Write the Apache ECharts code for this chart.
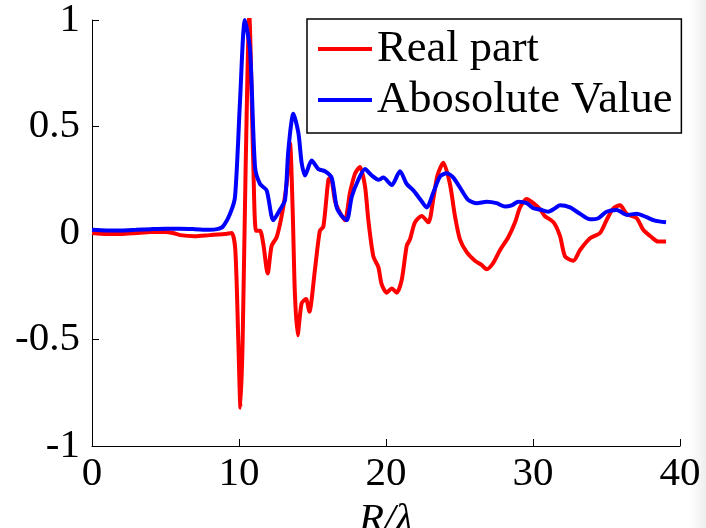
<!DOCTYPE html>
<html>
<head>
<meta charset="utf-8">
<script src="https://cdn.jsdelivr.net/npm/echarts@6/dist/echarts.min.js"></script>
<style>
  html, body { margin: 0; padding: 0; background: #ffffff; }
  #chart { width: 706px; height: 528px; }
</style>
</head>
<body>
<div id="chart"></div>
<script>
// Normalised distance R/λ and the real part of the response
const realR = [0, 1, 2, 3, 4, 5, 5.5, 6, 7, 8, 9, 9.5, 9.75, 9.95, 10.1, 10.25, 10.45, 10.7, 10.97, 11.16,
  11.43, 11.65, 11.95, 12.22, 12.56, 12.9, 13.24, 13.47, 13.65, 13.8, 13.99, 14.26, 14.56, 14.78, 15.17, 15.5,
  15.74, 16.08, 16.24, 16.53, 16.76, 17.2, 17.55, 17.9, 18.23, 18.57, 18.8, 19.14, 19.48, 19.7, 20.05, 20.39,
  20.73, 21.07, 21.41, 21.63, 21.97, 22.43, 22.88, 23.22, 23.5, 23.9, 24.35, 24.69, 25.03, 25.49, 26.05, 26.5,
  26.85, 27.3, 27.76, 28.32, 28.78, 29.12, 29.57, 30.02, 30.5, 30.8, 31.4, 31.84, 32.18, 32.74, 33.2, 33.88,
  34.56, 35.0, 35.46, 35.92, 36.37, 37.05, 37.5, 38.07, 38.52, 39.05];
const realPart = [0.0, -0.005, -0.005, 0.0, 0.005, 0.005, 0.0, -0.01, -0.015, -0.01, -0.005, 0.0, -0.08, -0.5, -0.82, -0.5, 0.3, 1.02, 0.33, 0.01,
  0.01, -0.05, -0.19, -0.06, -0.02, 0.08, 0.23, 0.42, 0.11, -0.28, -0.48, -0.33, -0.31, -0.37, -0.17, 0.01,
  0.03, 0.25, 0.26, 0.15, 0.11, 0.06, 0.19, 0.28, 0.31, 0.22, 0.06, -0.11, -0.16, -0.24, -0.28, -0.26,
  -0.28, -0.22, -0.06, -0.03, 0.05, 0.08, 0.05, 0.16, 0.27, 0.33, 0.23, 0.08, -0.03, -0.09, -0.13, -0.15,
  -0.17, -0.14, -0.08, -0.02, 0.05, 0.12, 0.16, 0.14, 0.11, 0.08, 0.05, -0.015, -0.11, -0.13, -0.08, -0.025,
  0.0, 0.06, 0.115, 0.13, 0.09, 0.07, 0.015, -0.02, -0.04, -0.04];

// Normalised distance R/λ and the magnitude of the response
const absR = [0, 1, 2, 3, 4, 5, 6, 7, 8, 8.5, 8.9, 9.39, 9.73, 10.07, 10.4, 10.75, 11.09, 11.43, 11.88, 12.33,
  12.79, 13.13, 13.36, 13.7, 14.04, 14.26, 14.49, 14.94, 15.4, 15.85, 16.3, 16.65, 16.99, 17.33, 17.67, 18.12,
  18.57, 19.03, 19.48, 19.82, 20.39, 20.95, 21.41, 21.86, 22.31, 22.77, 23.22, 23.67, 24.13, 24.58, 25.15, 25.6,
  26.17, 26.85, 27.53, 28.1, 28.55, 29.0, 29.57, 30.02, 30.48, 31.04, 31.5, 31.84, 32.52, 33.2, 33.88, 34.44,
  35.0, 35.7, 36.37, 37.05, 37.73, 38.3, 39.05];
const absValue = [0.015, 0.012, 0.012, 0.015, 0.018, 0.02, 0.02, 0.018, 0.015, 0.018, 0.03, 0.09, 0.17, 0.62, 1.0, 0.86, 0.31, 0.23, 0.2, 0.06,
  0.11, 0.155, 0.39, 0.56, 0.47, 0.33, 0.27, 0.34, 0.3, 0.29, 0.26, 0.12, 0.08, 0.06, 0.17, 0.25,
  0.3, 0.27, 0.25, 0.26, 0.225, 0.29, 0.23, 0.2, 0.16, 0.12, 0.19, 0.265, 0.28, 0.26, 0.2, 0.155,
  0.14, 0.147, 0.14, 0.124, 0.13, 0.147, 0.14, 0.116, 0.11, 0.1, 0.116, 0.13, 0.12, 0.09, 0.064, 0.069,
  0.1, 0.108, 0.085, 0.09, 0.074, 0.058, 0.05];

const xTicks = [0, 10, 20, 30, 40];
const yTicks = [-1, -0.5, 0, 0.5, 1];
const seriesNames = ['Real part', 'Abosolute Value'];

const FONT = '"Liberation Serif", "DejaVu Serif", serif';
const zip = (xs, ys) => xs.map((x, i) => [x, ys[i]]);

const chart = echarts.init(document.getElementById('chart'), null, { renderer: 'canvas' });

chart.setOption({
  animation: false,
  backgroundColor: '#ffffff',
  grid: { left: 92, right: 26, top: 20, bottom: 82, containLabel: false, outerBoundsMode: 'none' },
  xAxis: {
    type: 'value',
    min: xTicks[0],
    max: xTicks[xTicks.length - 1],
    interval: 10,
    name: 'R/λ',
    nameLocation: 'middle',
    nameGap: 50,
    nameTextStyle: { fontFamily: FONT, fontSize: 41, fontStyle: 'italic', color: '#000' },
    axisLine: { show: true, onZero: false, lineStyle: { color: '#000', width: 1 } },
    axisTick: { show: true, inside: true, length: 7, lineStyle: { color: '#000', width: 1 } },
    axisLabel: { fontFamily: FONT, fontSize: 41, color: '#000', margin: 8 },
    splitLine: { show: false }
  },
  yAxis: {
    type: 'value',
    min: yTicks[0],
    max: yTicks[yTicks.length - 1],
    interval: 0.5,
    axisLine: { show: true, lineStyle: { color: '#000', width: 1 } },
    axisTick: { show: true, inside: true, length: 7, lineStyle: { color: '#000', width: 1 } },
    axisLabel: { fontFamily: FONT, fontSize: 41, color: '#000', margin: 12 },
    splitLine: { show: false }
  },
  legend: {
    orient: 'vertical',
    left: 307,
    top: 19,
    padding: [7, 9, 10, 11],
    itemGap: 5,
    itemWidth: 54,
    itemHeight: 4,
    icon: 'rect',
    backgroundColor: '#ffffff',
    borderColor: '#000',
    borderWidth: 1.5,
    borderRadius: 0,
    textStyle: { fontFamily: FONT, fontSize: 44.5, color: '#000', lineHeight: 46 },
    data: seriesNames
  },
  series: [
    {
      name: seriesNames[0],
      type: 'line',
      data: zip(realR, realPart),
      showSymbol: false,
      smooth: 0.25,
      clip: true,
      color: '#ff0000',
      lineStyle: { color: '#ff0000', width: 4 },
      z: 2
    },
    {
      name: seriesNames[1],
      type: 'line',
      data: zip(absR, absValue),
      showSymbol: false,
      smooth: 0.25,
      clip: true,
      color: '#0000ff',
      lineStyle: { color: '#0000ff', width: 4 },
      z: 3
    }
  ],
  graphic: [
    {
      type: 'rect',
      right: 0,
      top: 0,
      shape: { width: 18, height: 528 },
      style: {
        fill: new echarts.graphic.LinearGradient(0, 0, 1, 0, [
          { offset: 0, color: 'rgba(240,240,240,0)' },
          { offset: 1, color: 'rgba(238,238,238,1)' }
        ])
      },
      silent: true,
      z: -1
    }
  ]
});
</script>
</body>
</html>
